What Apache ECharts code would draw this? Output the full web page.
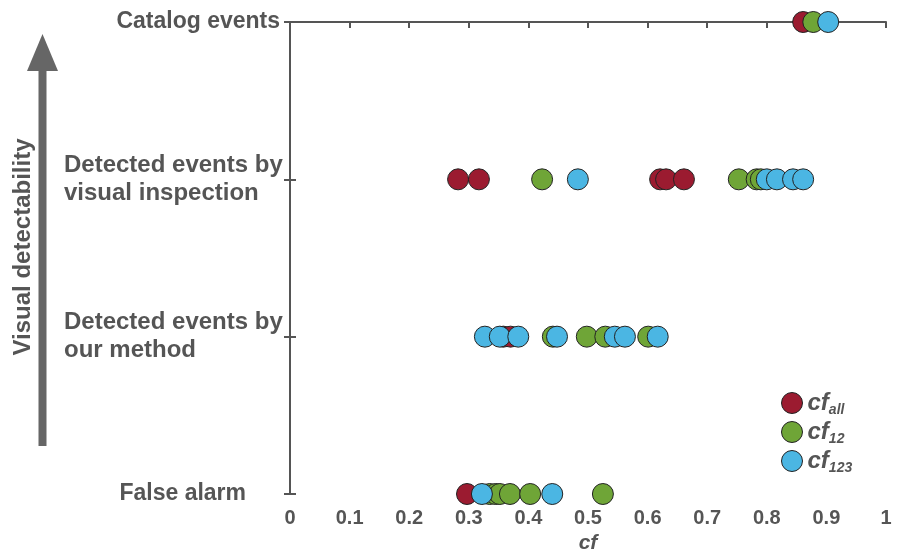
<!DOCTYPE html>
<html>
<head>
<meta charset="utf-8">
<script src="https://cdn.jsdelivr.net/npm/echarts@6/dist/echarts.min.js"></script>
<style>
  html, body { margin: 0; padding: 0; background: #fff; }
  #chart { width: 899px; height: 554px; }
</style>
</head>
<body>
<div id="chart"></div>
<script>
// rows from bottom to top
var rows = ['False alarm', 'Detected events by\nour method', 'Detected events by\nvisual inspection', 'Catalog events'];
var xTicks = [0, 0.1, 0.2, 0.3, 0.4, 0.5, 0.6, 0.7, 0.8, 0.9, 1];

// cf_all values per row (bottom to top)
var cfAll = [
    [0.297],
    [0.358, 0.370],
    [0.282, 0.317, 0.621, 0.631, 0.661],
    [0.861]
];
// cf_12
var cf12 = [
    [0.335, 0.345, 0.352, 0.369, 0.403, 0.525],
    [0.441, 0.498, 0.529, 0.601],
    [0.423, 0.753, 0.783, 0.790],
    [0.878]
];
// cf_123
var cf123 = [
    [0.322, 0.440],
    [0.327, 0.352, 0.383, 0.448, 0.545, 0.562, 0.617],
    [0.483, 0.800, 0.817, 0.844, 0.861],
    [0.903]
];

var seriesNames = ['cf_all', 'cf_12', 'cf_123'];
var seriesColors = ['#9b1b30', '#6fa537', '#4bb6e3'];

function toPoints(arr) {
    var pts = [];
    for (var r = 0; r < arr.length; r++) {
        for (var i = 0; i < arr[r].length; i++) {
            pts.push([arr[r][i], rows[r]]);
        }
    }
    return pts;
}

var grey = '#555555';
var ff = 'Liberation Sans, Arial';
var lbl = { color: grey, fontFamily: ff, fontWeight: 'bold' };

var option = {
    animation: false,
    grid: { left: 290, right: 13, top: 22, bottom: 60, containLabel: false, outerBoundsMode: 'none' },
    xAxis: [
        {
            type: 'value', min: 0, max: 1, interval: 0.1,
            axisLine: { lineStyle: { color: grey, width: 2 } },
            axisTick: { inside: true, length: 6, lineStyle: { color: grey, width: 2 } },
            splitLine: { show: false },
            axisLabel: Object.assign({ fontSize: 20, margin: 14,
                formatter: function (v) { return xTicks.indexOf(+v.toFixed(1)) >= 0 ? String(+v.toFixed(1)) : ''; } }, lbl),
            name: 'cf', nameLocation: 'middle', nameGap: 38,
            nameTextStyle: Object.assign({ fontSize: 21, fontStyle: 'italic' }, lbl)
        },
        {
            type: 'value', min: 0, max: 1, interval: 0.1, position: 'top',
            axisLine: { show: true, lineStyle: { color: grey, width: 2 } },
            axisTick: { show: true, inside: true, length: 6, lineStyle: { color: grey, width: 2 } },
            axisLabel: { show: false }, splitLine: { show: false }
        }
    ],
    yAxis: [
        {
            type: 'category', data: rows, boundaryGap: false,
            axisLine: { lineStyle: { color: grey, width: 2 } },
            axisTick: { inside: true, length: 6, lineStyle: { color: grey, width: 2 } },
            axisLabel: {
                margin: 8, align: 'right', color: grey,
                formatter: function (v) {
                    if (v.indexOf('\n') >= 0) {
                        return v.split('\n').map(function (s) { return '{w|' + s + '}'; }).join('\n');
                    }
                    if (v === 'False alarm') return '{f|' + v + '}';
                    return '{n|' + v + '}';
                },
                rich: {
                    w: { fontSize: 24, fontWeight: 'bold', fontFamily: ff, color: grey, width: 218, align: 'left', lineHeight: 28 },
                    n: { fontSize: 23, fontWeight: 'bold', fontFamily: ff, color: grey, lineHeight: 28, padding: [0, 2, 0, 0] },
                    f: { fontSize: 23, fontWeight: 'bold', fontFamily: ff, color: grey, lineHeight: 28, padding: [0, 36, 0, 0] }
                }
            }
        },
        {
            type: 'category', data: rows, boundaryGap: false, position: 'right',
            axisLine: { show: true, lineStyle: { color: grey, width: 2 } },
            axisTick: { show: true, inside: true, length: 6, lineStyle: { color: grey, width: 2 } },
            axisLabel: { show: false }
        }
    ],
    legend: {
        orient: 'vertical', left: 776, top: 386, itemGap: 3,
        itemWidth: 21, itemHeight: 21,
        data: seriesNames.map(function (n) { return { name: n, icon: 'circle' }; }),
        itemStyle: { borderColor: '#222', borderWidth: 1 },
        textStyle: {
            rich: {
                a: { fontSize: 24, fontWeight: 'bold', fontStyle: 'italic', color: grey, fontFamily: ff,
                     lineHeight: 28, verticalAlign: 'middle' },
                s: { fontSize: 14, fontWeight: 'bold', fontStyle: 'italic', color: grey, fontFamily: ff,
                     lineHeight: 10, verticalAlign: 'bottom' }
            }
        },
        formatter: function (n) { return '{a|cf}{s|' + n.split('_')[1] + '}'; }
    },
    graphic: [
        { type: 'rect', shape: { x: 38.5, y: 60, width: 8, height: 386 }, style: { fill: '#666666' } },
        { type: 'polygon', shape: { points: [[42.5, 34], [27, 71], [58, 71]] }, style: { fill: '#666666' } },
        {
            type: 'text', x: 23, y: 247, rotation: Math.PI / 2,
            style: { text: 'Visual detectability', fill: grey, font: 'bold 24px "Liberation Sans", Arial',
                     align: 'center', verticalAlign: 'middle' }
        }
    ],
    series: [cfAll, cf12, cf123].map(function (arr, k) {
        return {
            name: seriesNames[k], type: 'scatter', symbolSize: 21,
            itemStyle: { color: seriesColors[k], borderColor: '#222', borderWidth: 1, opacity: 1 },
            data: toPoints(arr)
        };
    })
};

var chart = echarts.init(document.getElementById('chart'));
chart.setOption(option);
</script>
</body>
</html>
